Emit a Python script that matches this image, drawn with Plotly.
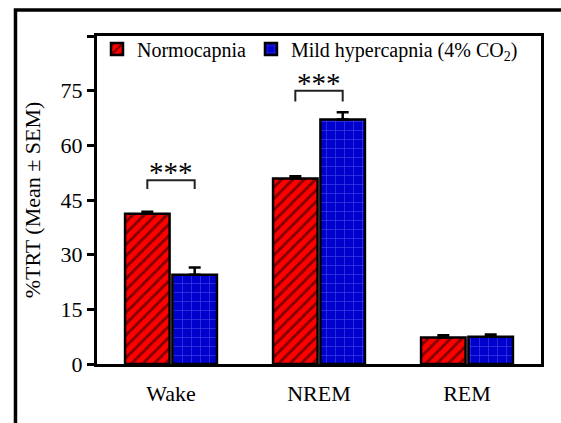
import plotly.graph_objects as go

categories = ["Wake", "NREM", "REM"]
normo_mean = [41.2, 50.9, 7.3]
normo_sem = [0.6, 0.6, 0.6]
hyper_mean = [24.5, 67.1, 7.5]
hyper_sem = [2.0, 2.0, 0.6]
series_names = ["Normocapnia", "Mild hypercapnia (4% CO<sub>2</sub>)"]
y_ticks = [0, 15, 30, 45, 60, 75, 90]
y_ticktext = ["0", "15", "30", "45", "60", "75", ""]
# significance brackets: (category index, bracket top, bracket end, label)
sig_cats = [0, 1]
sig_top = [50.4, 75.0]
sig_end = [48.0, 72.0]
sig_labels = ["***", "***"]

FONT = "Liberation Serif"

fig = go.Figure()
fig.add_trace(go.Bar(
    x=categories, y=normo_mean, name=series_names[0],
    marker=dict(color="#ff0000", line=dict(color="black", width=2.5),
                pattern=dict(shape="/", fgcolor="black", bgcolor="#ff0000", size=8, solidity=0.35)),
    error_y=dict(type="data", array=normo_sem, arrayminus=[0]*3, symmetric=False,
                 color="black", thickness=2.5, width=6),
))
fig.add_trace(go.Bar(
    x=categories, y=hyper_mean, name=series_names[1],
    marker=dict(color="#0000cc", line=dict(color="black", width=2.5),
                pattern=dict(shape="+", fgcolor="#7b7bff", bgcolor="#0000cc", size=9, solidity=0.15)),
    error_y=dict(type="data", array=hyper_sem, arrayminus=[0]*3, symmetric=False,
                 color="black", thickness=2.5, width=6),
))

shapes = []
off = 0.16
for c, top, end in zip(sig_cats, sig_top, sig_end):
    shapes.append(dict(type="path", xref="x", yref="y",
                       path=f"M {c-off},{end} L {c-off},{top} L {c+off},{top} L {c+off},{end}",
                       line=dict(color="#222", width=2)))
# outer frame (left and top edges; the rest runs off the picture)
shapes.append(dict(type="path", xref="paper", yref="paper",
                   path="M 1.045,1.0793 L -0.1836,1.0793 L -0.1836,-0.18",
                   line=dict(color="black", width=3.5), layer="below"))

annotations = []
for c, top, lab in zip(sig_cats, sig_top, sig_labels):
    annotations.append(dict(x=c, y=top, xref="x", yref="y", text=lab, showarrow=False,
                            yanchor="bottom", yshift=-10,
                            font=dict(family=FONT, size=29, color="black")))

fig.update_layout(
    width=561, height=423,
    margin=dict(l=97, r=20, t=36, b=59),
    paper_bgcolor="white", plot_bgcolor="white",
    barmode="group", bargap=0.36, bargroupgap=0.06,
    font=dict(family=FONT, size=22, color="black"),
    showlegend=True,
    legend=dict(orientation="h", x=0.0, y=0.96, xanchor="left", yanchor="middle",
                font=dict(family=FONT, size=20, color="black"),
                bgcolor="rgba(0,0,0,0)", itemwidth=30, tracegroupgap=0),
    shapes=shapes, annotations=annotations,
)
fig.update_xaxes(showline=True, linecolor="black", linewidth=3, mirror=True,
                 ticks="", showgrid=False, tickfont=dict(family=FONT, size=22),
                 ticklabelstandoff=8, range=[-0.5, 2.5])
fig.update_yaxes(range=[0, 90], tickvals=y_ticks, ticktext=y_ticktext,
                 showline=True, linecolor="black", linewidth=3, mirror=True,
                 ticks="outside", ticklen=7, tickwidth=3, tickcolor="black",
                 showgrid=False, zeroline=False, tickfont=dict(family=FONT, size=22),
                 title=dict(text="%TRT (Mean ± SEM)", font=dict(family=FONT, size=22), standoff=14))

fig.write_html("out.html", config={"displayModeBar": False},
               post_script="document.body.style.margin='0';document.body.style.overflow='hidden';")
